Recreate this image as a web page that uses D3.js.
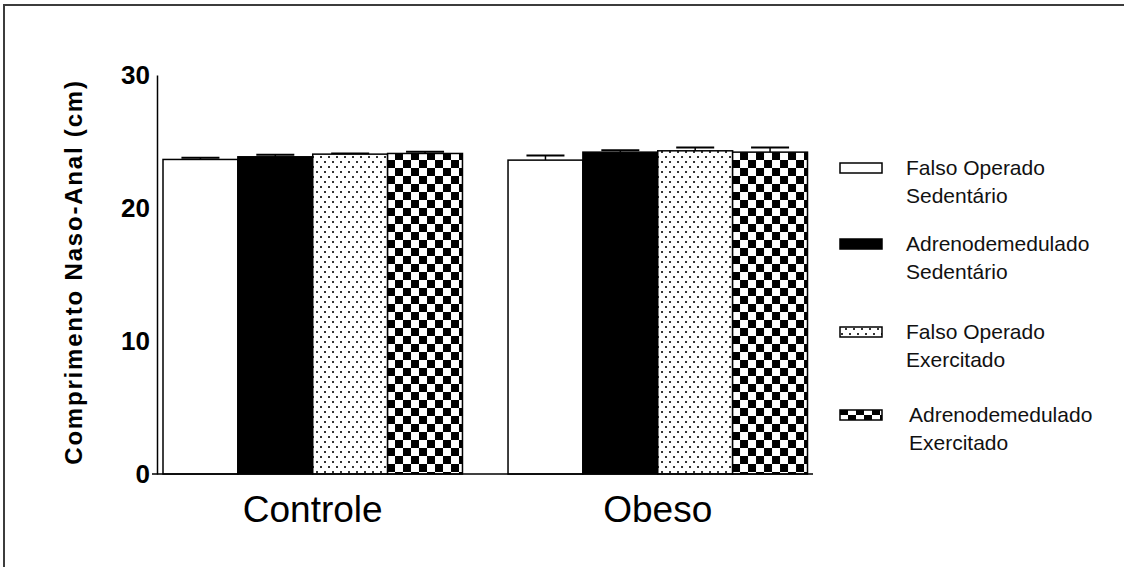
<!DOCTYPE html>
<html>
<head>
<meta charset="utf-8">
<script src="https://cdn.jsdelivr.net/npm/d3@7"></script>
<style>
body { margin: 0; background: #fff; }
text { font-family: Arial, "Liberation Sans", sans-serif; }
</style>
</head>
<body>
<script>
// groups on the x axis and the four treatments
var groups = ["Controle", "Obeso"];
var series = ["Falso Operado Sedentário", "Adrenodemedulado Sedentário", "Falso Operado Exercitado", "Adrenodemedulado Exercitado"];
var legendLines = [["Falso Operado", "Sedentário"], ["Adrenodemedulado", "Sedentário"], ["Falso Operado", "Exercitado"], ["Adrenodemedulado", "Exercitado"]];

// mean values (cm), one array per group, in series order
var controleMeans = [23.65, 23.85, 24.05, 24.1];
var obesoMeans = [23.6, 24.2, 24.3, 24.2];
// error (SEM)
var controleErr = [0.12, 0.15, 0.05, 0.12];
var obesoErr = [0.35, 0.15, 0.25, 0.35];

var yTicks = [0, 10, 20, 30];
var yLabel = "Comprimento Naso-Anal (cm)";

var width = 1124, height = 567;

var svg = d3.select("body").append("svg")
	.attr("width", width)
	.attr("height", height);

// patterns for the bars
var defs = svg.append("defs");

var dots = defs.append("pattern")
	.attr("id", "dots")
	.attr("patternUnits", "userSpaceOnUse")
	.attr("width", 8)
	.attr("height", 10);
dots.append("rect").attr("width", 8).attr("height", 10).attr("fill", "#fff");
dots.append("rect").attr("x", 1).attr("y", 1).attr("width", 2).attr("height", 2).attr("fill", "#333");
dots.append("rect").attr("x", 5).attr("y", 6).attr("width", 2).attr("height", 2).attr("fill", "#333");

var checker = defs.append("pattern")
	.attr("id", "checker")
	.attr("patternUnits", "userSpaceOnUse")
	.attr("width", 16)
	.attr("height", 16);
checker.append("rect").attr("width", 16).attr("height", 16).attr("fill", "#fff");
checker.append("rect").attr("width", 8).attr("height", 8).attr("fill", "#000");
checker.append("rect").attr("x", 8).attr("y", 8).attr("width", 8).attr("height", 8).attr("fill", "#000");

var fills = ["#fff", "#000", "url(#dots)", "url(#checker)"];

// outer frame (cut off at right and bottom)
svg.append("rect")
	.attr("x", 4)
	.attr("y", 5)
	.attr("width", width + 20)
	.attr("height", height + 20)
	.attr("fill", "none")
	.attr("stroke", "#3c3c3c")
	.attr("stroke-width", 2);

// scales
var x0 = d3.scaleBand()
	.domain(groups)
	.range([163, 807.5])
	.paddingInner(0.132)
	.paddingOuter(0);

var x1 = d3.scaleBand()
	.domain(series)
	.range([0, x0.bandwidth()])
	.padding(0);

var y = d3.scaleLinear()
	.domain([0, 30])
	.range([474, 75]);

var data = groups.map(function(g, gi) {
	var m = gi == 0 ? controleMeans : obesoMeans;
	var e = gi == 0 ? controleErr : obesoErr;
	return series.map(function(s, si) {
		return {group: g, series: s, idx: si, mean: m[si], err: e[si]};
	});
});

var gGroups = svg.selectAll(".grp")
	.data(data)
	.enter().append("g")
	.attr("class", "grp")
	.attr("transform", function(d, i) { return "translate(" + x0(groups[i]) + ",0)"; });

// error bars (drawn first so the bar covers the lower half)
gGroups.selectAll(".err")
	.data(function(d) { return d; })
	.enter().append("line")
	.attr("x1", function(d) { return x1(d.series) + x1.bandwidth() / 2; })
	.attr("x2", function(d) { return x1(d.series) + x1.bandwidth() / 2; })
	.attr("y1", function(d) { return y(d.mean); })
	.attr("y2", function(d) { return y(d.mean + d.err); })
	.attr("stroke", "#000")
	.attr("stroke-width", 1.5);

gGroups.selectAll(".cap")
	.data(function(d) { return d; })
	.enter().append("line")
	.attr("x1", function(d) { return x1(d.series) + x1.bandwidth() / 2 - 19; })
	.attr("x2", function(d) { return x1(d.series) + x1.bandwidth() / 2 + 19; })
	.attr("y1", function(d) { return y(d.mean + d.err); })
	.attr("y2", function(d) { return y(d.mean + d.err); })
	.attr("stroke", "#000")
	.attr("stroke-width", 2);

// bars
gGroups.selectAll(".bar")
	.data(function(d) { return d; })
	.enter().append("rect")
	.attr("x", function(d) { return x1(d.series); })
	.attr("y", function(d) { return y(d.mean); })
	.attr("width", x1.bandwidth())
	.attr("height", function(d) { return y(0) - y(d.mean); })
	.attr("fill", function(d) { return fills[d.idx]; })
	.attr("stroke", "#000")
	.attr("stroke-width", 1.5);

// y axis
var yAxis = svg.append("g")
	.attr("transform", "translate(157,0)")
	.call(d3.axisLeft(y).tickValues(yTicks).tickSize(0).tickSizeOuter(0).tickPadding(7));
yAxis.select(".domain").attr("stroke", "#000").attr("stroke-width", 1.5);
yAxis.selectAll("text")
	.attr("font-size", 26)
	.attr("font-weight", "bold")
	.attr("fill", "#000")
	.style("font-family", "Arial, 'Liberation Sans', sans-serif");

// x axis baseline
svg.append("line")
	.attr("x1", 152)
	.attr("x2", 813)
	.attr("y1", y(0))
	.attr("y2", y(0))
	.attr("stroke", "#000")
	.attr("stroke-width", 1.5);

// group labels
svg.selectAll(".glabel")
	.data(groups)
	.enter().append("text")
	.attr("x", function(d) { return x0(d) + x0.bandwidth() / 2; })
	.attr("y", 522)
	.attr("text-anchor", "middle")
	.attr("font-size", 37)
	.attr("fill", "#000")
	.text(function(d) { return d; });

// y label
svg.append("text")
	.attr("transform", "translate(82,272) rotate(-90)")
	.attr("text-anchor", "middle")
	.attr("font-size", 24)
	.attr("font-weight", "bold")
	.attr("letter-spacing", 1.8)
	.attr("fill", "#000")
	.text(yLabel);

// legend
var legendY = [168, 244, 332, 415];
var legendTextX = [906, 906, 906, 909];

var legend = svg.selectAll(".leg")
	.data(series)
	.enter().append("g")
	.attr("class", "leg")
	.attr("transform", function(d, i) { return "translate(0," + legendY[i] + ")"; });

legend.append("rect")
	.attr("x", 840)
	.attr("y", -5)
	.attr("width", 42)
	.attr("height", 10)
	.attr("fill", function(d, i) { return fills[i]; })
	.attr("stroke", "#000")
	.attr("stroke-width", 1.5);

legend.each(function(d, i) {
	var t = d3.select(this).append("text")
		.attr("x", legendTextX[i])
		.attr("y", 7)
		.attr("font-size", 21)
		.attr("fill", "#111");
	legendLines[i].forEach(function(line, li) {
		t.append("tspan")
			.attr("x", legendTextX[i])
			.attr("dy", li == 0 ? 0 : 28)
			.text(line);
	});
});
</script>
</body>
</html>
